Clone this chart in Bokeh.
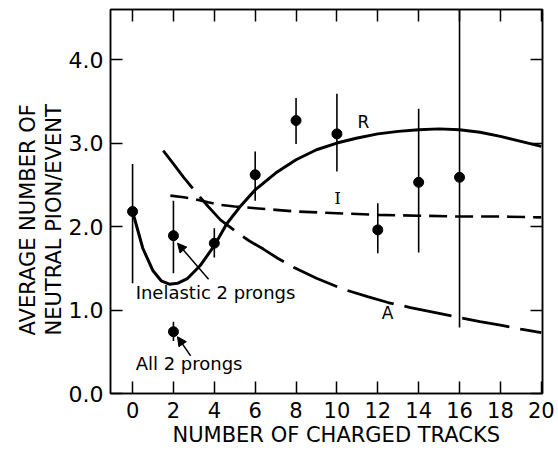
from bokeh.plotting import figure
from bokeh.models import (Range1d, LinearAxis, FixedTicker, Label, Arrow, NormalHead,
                          CustomJSTickFormatter, Title)
from bokeh.embed import file_html
from bokeh.resources import INLINE

# ---- data ----
tracks = [0, 2, 4, 6, 8, 10, 12, 14, 16]
avg_pi0 = [2.18, 1.89, 1.80, 2.62, 3.27, 3.11, 1.96, 2.53, 2.59]
err_low = [1.32, 1.44, 1.63, 2.31, 2.99, 2.66, 1.68, 1.69, 0.79]
err_high = [2.75, 2.31, 1.98, 2.90, 3.54, 3.59, 2.28, 3.41, 4.60]

all2_x = [2]
all2_y = [0.74]
all2_low = [0.63]
all2_high = [0.86]

R_x = [0, 0.5, 1.0, 1.4, 1.8, 2.2, 2.7, 3.3, 4.0, 4.6, 5.3, 6.0, 7.0, 8.0, 9.0,
       10.0, 11.0, 12.0, 13.0, 14.0, 15.0, 16.0, 17.0, 18.0, 19.0, 20.0]
R_y = [2.18, 1.74, 1.47, 1.35, 1.31, 1.32, 1.38, 1.53, 1.77, 2.03, 2.25, 2.44,
       2.64, 2.80, 2.92, 3.00, 3.06, 3.11, 3.14, 3.16, 3.17, 3.16, 3.13, 3.08,
       3.02, 2.96]

I_x = [1.85, 2.5, 3.0, 3.7, 4.3, 5, 6, 7, 8, 10, 12, 14, 16, 18, 20]
I_y = [2.37, 2.35, 2.33, 2.29, 2.26, 2.24, 2.22, 2.20, 2.18, 2.16, 2.14, 2.13,
       2.12, 2.12, 2.11]

A_x = [1.5, 2.0, 2.5, 3.1, 3.7, 4.3, 5.0, 5.7, 6.4, 7.1, 7.9, 9.0, 10.3, 11.5,
       12.5, 13.6, 15, 16, 17, 18, 19, 20]
A_y = [2.91, 2.75, 2.59, 2.41, 2.24, 2.08, 1.95, 1.83, 1.73, 1.62, 1.51, 1.38,
       1.25, 1.16, 1.09, 1.03, 0.96, 0.91, 0.86, 0.82, 0.77, 0.73]

x_ticks = [0, 2, 4, 6, 8, 10, 12, 14, 16, 18, 20]
x_tick_labels = ["0", "2", "4", "6", "8", "10", "12", "14", "16", "18", "20"]
y_ticks = [0, 1, 2, 3, 4]
y_tick_labels = ["0.0", "1.0", "2.0", "3.0", "4.0"]

x_title = "NUMBER OF CHARGED TRACKS"
y_title_lines = ["AVERAGE NUMBER OF", "NEUTRAL PION/EVENT"]

FONT = "DejaVu Sans"

p = figure(width=558, height=451, output_backend="svg", toolbar_location=None,
           x_range=Range1d(-1.08, 20.06), y_range=Range1d(0, 4.6),
           x_axis_location=None, y_axis_location=None,
           min_border_left=110, min_border_right=16, min_border_top=9,
           min_border_bottom=58)
p.frame_width = 432
p.frame_height = 384
p.grid.visible = False
p.background_fill_color = "white"
p.border_fill_color = "white"
p.outline_line_color = "black"
p.outline_line_width = 1.5

blank = CustomJSTickFormatter(code="return ''")

bottom_axis = LinearAxis(ticker=FixedTicker(ticks=x_ticks),
                         major_label_overrides={t: l for t, l in zip(x_ticks, x_tick_labels)})
left_axis = LinearAxis(ticker=FixedTicker(ticks=y_ticks),
                       major_label_overrides={t: l for t, l in zip(y_ticks, y_tick_labels)})
top_axis = LinearAxis(ticker=FixedTicker(ticks=x_ticks), formatter=blank)
right_axis = LinearAxis(ticker=FixedTicker(ticks=y_ticks), formatter=blank)

p.add_layout(bottom_axis, "below")
p.add_layout(left_axis, "left")
p.add_layout(top_axis, "above")
p.add_layout(right_axis, "right")

for ax in [bottom_axis, left_axis, top_axis, right_axis]:
    ax.major_tick_in = 12
    ax.major_tick_out = 0
    ax.minor_tick_line_color = None
    ax.major_tick_line_color = "black"
    ax.major_tick_line_width = 1.5
    ax.axis_line_color = "black"
    ax.axis_line_width = 1.5
    ax.major_label_text_font = FONT
    ax.major_label_text_color = "black"

for ax in [top_axis, right_axis]:
    ax.major_label_standoff = 0

bottom_axis.major_label_text_font_size = "21px"
bottom_axis.major_label_standoff = 8
left_axis.major_label_text_font_size = "22px"
left_axis.major_label_standoff = 7

# axis titles (as side titles so they can be placed like the reference)
def side_title(text, offset):
    return Title(text=text, align="left", offset=offset, standoff=0,
                 text_font=FONT, text_font_size="21px", text_font_style="normal",
                 text_color="black")

p.add_layout(side_title(x_title, 62), "below")
p.add_layout(side_title(y_title_lines[1], 58), "left")
p.add_layout(side_title(y_title_lines[0], 58), "left")

# curves
p.line(R_x, R_y, line_color="black", line_width=3)
p.line(I_x, I_y, line_color="black", line_width=2.6, line_dash="18 8")
p.line(A_x, A_y, line_color="black", line_width=2.8, line_dash="48 11")

# data points with error bars
p.segment(x0=tracks, y0=err_low, x1=tracks, y1=err_high, line_color="black", line_width=1.6)
p.scatter(tracks, avg_pi0, size=10, color="black")
p.segment(x0=all2_x, y0=all2_low, x1=all2_x, y1=all2_high, line_color="black", line_width=1.6)
p.scatter(all2_x, all2_y, size=10, color="black")

# curve labels
p.add_layout(Label(x=11.3, y=3.25, text="R", text_font=FONT, text_font_size="17px",
                   text_align="center", text_baseline="middle", text_color="black"))
p.add_layout(Label(x=10.03, y=2.34, text="I", text_font="DejaVu Serif", text_font_size="17px",
                   text_align="center", text_baseline="middle", text_color="black"))
p.add_layout(Label(x=12.48, y=0.96, text="A", text_font=FONT, text_font_size="17px",
                   text_align="center", text_baseline="middle", text_color="black"))

# annotations
p.add_layout(Label(x=0.15, y=1.21, text="Inelastic 2 prongs", text_font=FONT,
                   text_font_size="18px", text_align="left", text_baseline="middle",
                   text_color="black"))
p.add_layout(Label(x=0.15, y=0.36, text="All 2 prongs", text_font=FONT,
                   text_font_size="18px", text_align="left", text_baseline="middle",
                   text_color="black"))
p.add_layout(Arrow(x_start=3.72, y_start=1.37, x_end=2.2, y_end=1.80,
                   line_width=1.5, line_color="black",
                   end=NormalHead(size=9, fill_color="black", line_color="black")))
p.add_layout(Arrow(x_start=2.84, y_start=0.45, x_end=2.2, y_end=0.68,
                   line_width=1.5, line_color="black",
                   end=NormalHead(size=9, fill_color="black", line_color="black")))

open("out.html", "w").write(file_html(p, INLINE))
